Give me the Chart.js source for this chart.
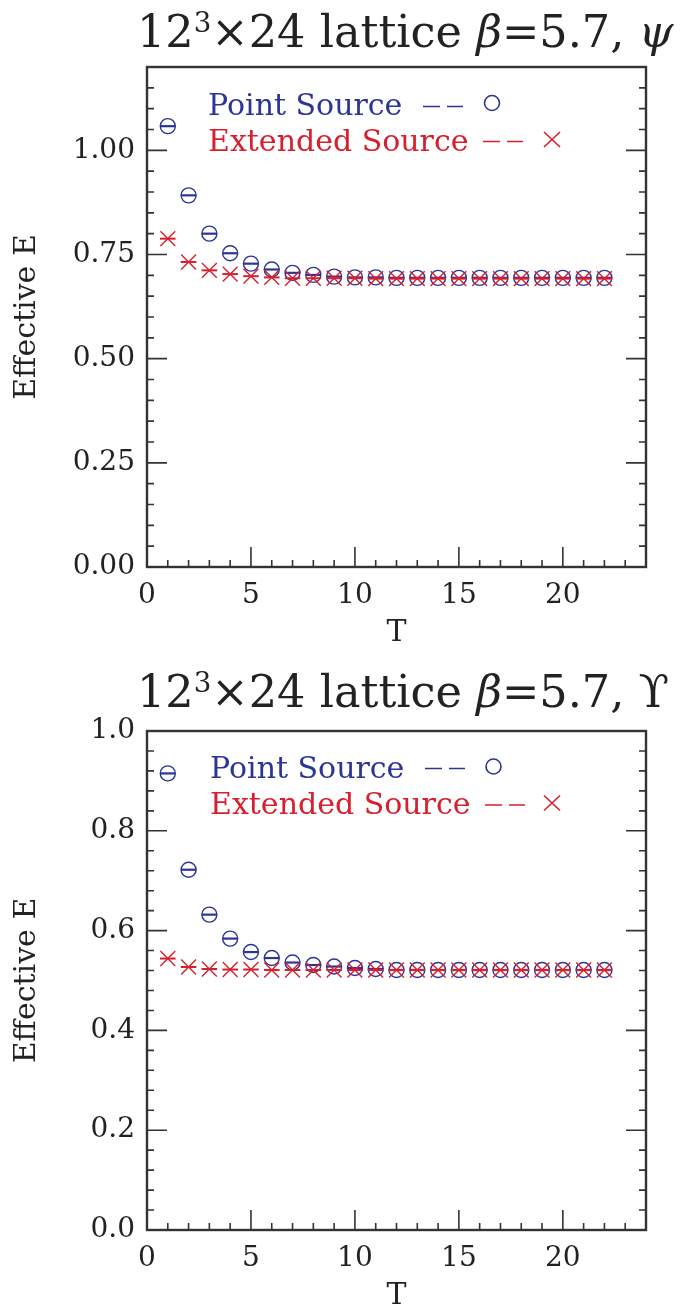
<!DOCTYPE html>
<html lang="en">

<head>
    <meta charset="UTF-8">
    <title>Effective E vs T</title>
    <script src="https://cdn.jsdelivr.net/npm/chart.js"></script>
    <style>
        body { margin: 0; background: #ffffff; width: 683px; height: 1306px; overflow: hidden; }
        .panel { position: relative; width: 683px; height: 653px; }
        .title { position: absolute; left: 137px; font: 44.6px "DejaVu Serif"; line-height: 44px; color: #222; white-space: nowrap; }
        .title sup { font-size: 62%; position: relative; top: -0.55em; vertical-align: baseline; }
    </style>
</head>

<body>
    <div class="panel">
        <div class="title" style="top: 10px;">12<sup>3</sup>×24 lattice <i>β</i>=5.7, <i>ψ</i></div>
        <canvas id="psiChart"></canvas>
    </div>
    <div class="panel">
        <div class="title" style="top: 17px;">12<sup>3</sup>×24 lattice <i>β</i>=5.7, ϒ</div>
        <canvas id="upsChart"></canvas>
    </div>

    <script>
        // time slices
        const T = [ 1, 2, 3, 4, 5, 6, 7, 8, 9, 10, 11, 12, 13, 14, 15, 16, 17, 18, 19, 20, 21, 22 ];

        // psi
        const psiPoint = [ 1.058, 0.892, 0.800, 0.753, 0.728, 0.714, 0.706, 0.701, 0.697, 0.695, 0.695, 0.694,
            0.694, 0.694, 0.694, 0.694, 0.694, 0.694, 0.694, 0.694, 0.694, 0.694 ];
        const psiExtended = [ 0.788, 0.732, 0.712, 0.703, 0.698, 0.695, 0.693, 0.693, 0.693, 0.693, 0.692, 0.692,
            0.692, 0.692, 0.692, 0.692, 0.692, 0.692, 0.692, 0.692, 0.692, 0.692 ];

        // upsilon
        const upsPoint = [ 0.915, 0.722, 0.632, 0.584, 0.557, 0.545, 0.536, 0.531, 0.528, 0.525, 0.523, 0.521,
            0.521, 0.521, 0.521, 0.521, 0.521, 0.521, 0.521, 0.521, 0.521, 0.521 ];
        const upsExtended = [ 0.544, 0.527, 0.523, 0.522, 0.522, 0.521, 0.521, 0.521, 0.521, 0.521, 0.521, 0.521,
            0.521, 0.521, 0.521, 0.521, 0.521, 0.521, 0.521, 0.521, 0.521, 0.521 ];

        // tick labels
        const xTicks = [ 0, 5, 10, 15, 20 ];
        const psiYTicks = [ 0, 0.25, 0.5, 0.75, 1.0 ];
        const upsYTicks = [ 0, 0.2, 0.4, 0.6, 0.8, 1.0 ];

        const BLUE = '#2b3595';
        const RED = '#d7202e';
        const INK = '#222222';
        const SERIF = '"DejaVu Serif"';

        // box round the plot, with inward ticks on left, right and bottom
        const frameTicks = {
            id: 'frameTicks',
            beforeDatasetsDraw( chart, args, opts ) {
                const { ctx, chartArea: a, scales: { x, y } } = chart;
                ctx.save();
                ctx.strokeStyle = '#333';
                ctx.lineWidth = 1.6;
                ctx.beginPath();
                const nx = Math.round( ( x.max - x.min ) / opts.xMinor );
                for ( let i = 0; i <= nx; i++ ) {
                    const v = x.min + i * opts.xMinor;
                    const len = Math.abs( v / opts.xMajor - Math.round( v / opts.xMajor ) ) < 1e-6 ? 20 : 7;
                    const px = x.getPixelForValue( v );
                    ctx.moveTo( px, a.bottom );
                    ctx.lineTo( px, a.bottom - len );
                }
                const ny = Math.round( ( y.max - y.min ) / opts.yMinor );
                for ( let i = 0; i <= ny; i++ ) {
                    const v = y.min + i * opts.yMinor;
                    const len = Math.abs( v / opts.yMajor - Math.round( v / opts.yMajor ) ) < 1e-6 ? 20 : 7;
                    const py = y.getPixelForValue( v );
                    ctx.moveTo( a.left, py );
                    ctx.lineTo( a.left + len, py );
                    ctx.moveTo( a.right, py );
                    ctx.lineTo( a.right - len, py );
                }
                ctx.stroke();
                ctx.lineWidth = 2.4;
                ctx.strokeRect( a.left, a.top, a.right - a.left, a.bottom - a.top );
                ctx.restore();
            }
        };

        // the "Point Source -- o / Extended Source -- x" key inside the plot
        const textKey = {
            id: 'textKey',
            afterDraw( chart, args, opts ) {
                const ctx = chart.ctx;
                ctx.save();
                ctx.font = '30px ' + SERIF;
                ctx.textBaseline = 'alphabetic';
                ctx.lineWidth = 1.6;
                for ( const row of opts.rows ) {
                    ctx.fillStyle = row.color;
                    ctx.strokeStyle = row.color;
                    ctx.fillText( row.text, row.x, row.y );
                    ctx.beginPath();
                    ctx.moveTo( row.dash[ 0 ], row.dashY );
                    ctx.lineTo( row.dash[ 0 ] + 17, row.dashY );
                    ctx.moveTo( row.dash[ 1 ], row.dashY );
                    ctx.lineTo( row.dash[ 1 ] + 16, row.dashY );
                    if ( row.mark === 'circle' ) {
                        ctx.moveTo( row.mx + 7.5, row.my );
                        ctx.arc( row.mx, row.my, 7.5, 0, Math.PI * 2 );
                    } else {
                        ctx.moveTo( row.mx - 8, row.my - 7.5 );
                        ctx.lineTo( row.mx + 8, row.my + 7.5 );
                        ctx.moveTo( row.mx - 8, row.my + 7.5 );
                        ctx.lineTo( row.mx + 8, row.my - 7.5 );
                    }
                    ctx.stroke();
                }
                ctx.restore();
            }
        };

        const toXY = ( vals ) => vals.map( ( v, i ) => ( { x: T[ i ], y: v } ) );

        function makeDatasets( point, extended ) {
            // index 0 is drawn on top, so the extended source goes first
            return [
                { label: 'Extended bar', data: toXY( extended ), pointStyle: 'line', pointRadius: 7.8, borderColor: RED, borderWidth: 2, showLine: false },
                { label: 'Extended Source', data: toXY( extended ), pointStyle: 'crossRot', pointRadius: 10.5, borderColor: RED, borderWidth: 1.4, showLine: false },
                { label: 'Point bar', data: toXY( point ), pointStyle: 'line', pointRadius: 7.5, borderColor: BLUE, borderWidth: 2.2, showLine: false },
                { label: 'Point Source', data: toXY( point ), pointStyle: 'circle', pointRadius: 7.5, borderColor: BLUE, backgroundColor: 'rgba(0,0,0,0)', borderWidth: 1.4, showLine: false }
            ];
        }

        function makeChart( id, cfg ) {
            return new Chart( document.getElementById( id ), {
                type: 'scatter',
                data: { datasets: makeDatasets( cfg.point, cfg.extended ) },
                options: {
                    responsive: true,
                    maintainAspectRatio: false,
                    animation: false,
                    layout: { padding: { top: cfg.top, right: 37, left: 0, bottom: 0 } },
                    plugins: {
                        legend: { display: false },
                        tooltip: { enabled: false },
                        frameTicks: { xMinor: 1, xMajor: 5, yMinor: cfg.yMinor, yMajor: cfg.yMajor },
                        textKey: { rows: cfg.key }
                    },
                    scales: {
                        x: {
                            type: 'linear',
                            min: 0,
                            max: 24,
                            grid: { display: false, drawTicks: false, tickLength: 0 },
                            border: { display: false },
                            afterBuildTicks: ( scale ) => { scale.ticks = xTicks.map( v => ( { value: v } ) ); },
                            afterFit: ( scale ) => { scale.height = cfg.xHeight; },
                            ticks: { font: { family: SERIF, size: 28 }, color: INK, padding: 12, maxRotation: 0 },
                            title: { display: true, text: 'T', font: { family: SERIF, size: 30, lineHeight: cfg.tLine }, color: INK, padding: { top: 0, bottom: cfg.tPad } }
                        },
                        y: {
                            type: 'linear',
                            min: 0,
                            max: cfg.yMax,
                            grid: { display: false, drawTicks: false, tickLength: 0 },
                            border: { display: false },
                            afterBuildTicks: ( scale ) => { scale.ticks = cfg.yTicks.map( v => ( { value: v } ) ); },
                            afterFit: ( scale ) => { scale.width = 147; },
                            ticks: { font: { family: SERIF, size: 28 }, color: INK, padding: 12, callback: ( v ) => v.toFixed( cfg.digits ) },
                            title: { display: true, text: 'Effective E', font: { family: SERIF, size: 30 }, color: INK, padding: { top: 9, bottom: 0 } }
                        }
                    }
                },
                plugins: [ frameTicks, textKey ]
            } );
        }

        makeChart( 'psiChart', {
            point: psiPoint, extended: psiExtended,
            yMax: 1.2, yTicks: psiYTicks, yMinor: 0.05, yMajor: 0.25, digits: 2,
            top: 67, xHeight: 86, tPad: 2, tLine: 1.2,
            key: [
                { text: 'Point Source', color: BLUE, x: 208, y: 115, dash: [ 423, 447 ], dashY: 106.5, mark: 'circle', mx: 492, my: 103 },
                { text: 'Extended Source', color: RED, x: 208, y: 151, dash: [ 483, 507 ], dashY: 141.5, mark: 'cross', mx: 552, my: 139.5 }
            ]
        } );

        makeChart( 'upsChart', {
            point: upsPoint, extended: upsExtended,
            yMax: 1.0, yTicks: upsYTicks, yMinor: 0.04, yMajor: 0.2, digits: 1,
            top: 78, xHeight: 76, tPad: 0, tLine: 0.66,
            key: [
                { text: 'Point Source', color: BLUE, x: 210, y: 125, dash: [ 425, 449 ], dashY: 115.5, mark: 'circle', mx: 493.5, my: 113.5 },
                { text: 'Extended Source', color: RED, x: 210, y: 161, dash: [ 485, 509 ], dashY: 152, mark: 'cross', mx: 552, my: 150 }
            ]
        } );
    </script>
</body>

</html>
